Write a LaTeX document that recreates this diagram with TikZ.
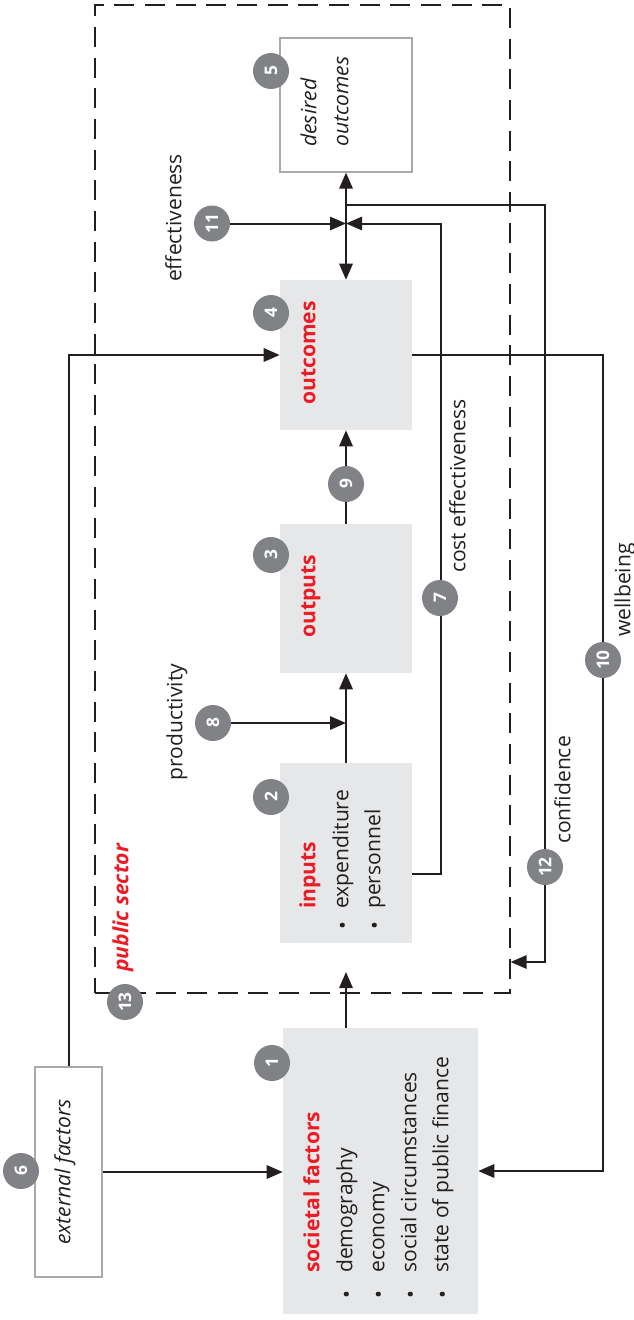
\documentclass[tikz,border=0pt]{standalone}
\usepackage{fontspec}
\setmainfont{Open Sans}
\usetikzlibrary{arrows.meta,fit}
\definecolor{boxgray}{HTML}{E6E7E8}
\definecolor{circgray}{HTML}{808285}
\definecolor{redtxt}{HTML}{ED1C24}
\definecolor{linecol}{HTML}{231F20}
\definecolor{bordgray}{HTML}{A7A9AC}
\newcommand{\fsz}{\fontsize{15.8}{18}\selectfont}
\begin{document}
\begin{tikzpicture}[x=0.75pt,y=-0.75pt,
  conn/.style={draw=linecol, line width=1.5pt},
  arr/.style={conn, -{Triangle[length=12pt,width=10pt]}},
  graybox/.style={fill=boxgray, draw=none, inner sep=0pt},
  whitebox/.style={fill=white, draw=bordgray, line width=0.9pt, inner sep=0pt},
  dashbox/.style={draw=linecol, line width=0.9pt, dash pattern=on 15pt off 8pt, inner sep=0pt},
  num/.style={circle, fill=circgray, minimum size=27pt, inner sep=0pt, text=white, font=\bfseries\fontsize{13}{13}\selectfont, rotate=90},
  ln/.style={rotate=90, anchor=west, inner sep=0pt, text height=0.72em, text depth=0.22em, font=\fsz, text=linecol},
  ttl/.style={ln, font=\bfseries\fsz, text=redtxt},
  itl/.style={ln, font=\itshape\fsz},
  lbl/.style={rotate=90, inner sep=0pt, text height=0.72em, text depth=0.22em, font=\fsz, text=linecol},
  bul/.style={rotate=90, inner sep=0pt, font=\fsz, text=linecol}
]
\useasboundingbox (0,0) rectangle (634,1320);
% public sector frame
\node[dashbox, fit={(95,5)(510,993)}] (ps) {};
% boxes
\node[whitebox, fit={(280,38)(412,172)}] (des) {};
\node[graybox, fit={(280,280)(412,430)}] (outc) {};
\node[graybox, fit={(280,524)(412,673)}] (outp) {};
\node[graybox, fit={(280,763)(412,943)}] (inp) {};
\node[graybox, fit={(283,1028)(478,1314)}] (soc) {};
\node[whitebox, fit={(35,1067)(102,1277)}] (ext) {};
% coordinates
\coordinate (J) at (346,223.5);
\coordinate (inArrow) at (346,972);
\coordinate (c7a) at (441,874);
\coordinate (c7b) at (441,223.5);
\coordinate (cf0) at (346,205);
\coordinate (cf1) at (545,205);
\coordinate (cf2) at (545,962);
\coordinate (wb1) at (603,355);
\coordinate (wb2) at (603,1171);
\coordinate (ex1) at (68.5,355);
% numbered circles (positions)
\coordinate (p1) at (272,1063);
\coordinate (p2) at (271,797);
\coordinate (p3) at (271,555);
\coordinate (p4) at (271,313);
\coordinate (p5) at (271,71);
\coordinate (p6) at (21,1171);
\coordinate (p7) at (440,598);
\coordinate (p8) at (213,723);
\coordinate (p9) at (346,484);
\coordinate (p10) at (603,660);
\coordinate (p11) at (212,223.5);
\coordinate (p12) at (545,867);
\coordinate (p13) at (125,1002);
% connectors
\draw[arr] (soc.north -| J) -- (inArrow);
\draw[arr] (inp.north) -- (outp.south);
\draw[arr] (p8) -- (p8 -| J);
\draw[arr] (outp.north) -- (outc.south);
\draw[arr] (J) -- (outc.north);
\draw[arr] (J) -- (des.south);
\draw[arr] (p11) -- (J);
\draw[arr] (inp.east |- c7a) -- (c7a) -- (c7b) -- (J);
\draw[arr] (cf0) -- (cf1) -- (cf2) -- (ps.east |- cf2);
\draw[arr] (outc.east) -- (wb1) -- (wb2) -- (soc.east);
\draw[arr] (ext.north) -- (ex1) -- (outc.west);
\draw[arr] (ext.east) -- (ext.east -| soc.west);
% circles
\node[num] (n1) at (p1) {1};
\node[num] (n2) at (p2) {2};
\node[num] (n3) at (p3) {3};
\node[num] (n4) at (p4) {4};
\node[num] (n5) at (p5) {5};
\node[num] (n6) at (p6) {6};
\node[num] (n7) at (p7) {7};
\node[num] (n8) at (p8) {8};
\node[num] (n9) at (p9) {9};
\node[num] (n10) at (p10) {10};
\node[num] (n11) at (p11) {11};
\node[num] (n12) at (p12) {12};
\node[num] (n13) at (p13) {13};
% box texts
\node[itl] (t5a) at (313,147) {desired};
\node[itl] (t5b) at (345,147) {outcomes};
\node[ttl] (t4) at (312,405) {outcomes};
\node[ttl] (t3) at (312,638) {outputs};
\node[ttl] (t2) at (312,909) {inputs};
\node[bul] (b2a) at (345,926) {•};
\node[ln] (t2a) at (345,909) {expenditure};
\node[bul] (b2b) at (377,926) {•};
\node[ln] (t2b) at (377,909) {personnel};
\node[ttl] (t1) at (316,1273) {societal factors};
\node[bul] (b1a) at (349,1295) {•};
\node[ln] (t1a) at (349,1273) {demography};
\node[bul] (b1b) at (381,1295) {•};
\node[ln] (t1b) at (381,1273) {economy};
\node[bul] (b1c) at (413,1295) {•};
\node[ln] (t1c) at (413,1273) {social circumstances};
\node[bul] (b1d) at (445,1295) {•};
\node[ln] (t1d) at (445,1273) {state of public finance};
\node[itl, anchor=center] (t6) at (67,1172) {external factors};
\node[ln, font=\bfseries\itshape\fsz, text=redtxt] (t13) at (125,972) {public sector};
% labels
\node[lbl] (l11) at (178,218) {effectiveness};
\node[lbl] (l8) at (179,722) {productivity};
\node[lbl] (l7) at (462,486) {cost effectiveness};
\node[lbl] (l12) at (567,790) {confidence};
\node[lbl] (l10) at (627,590) {wellbeing};
\end{tikzpicture}
\end{document}
